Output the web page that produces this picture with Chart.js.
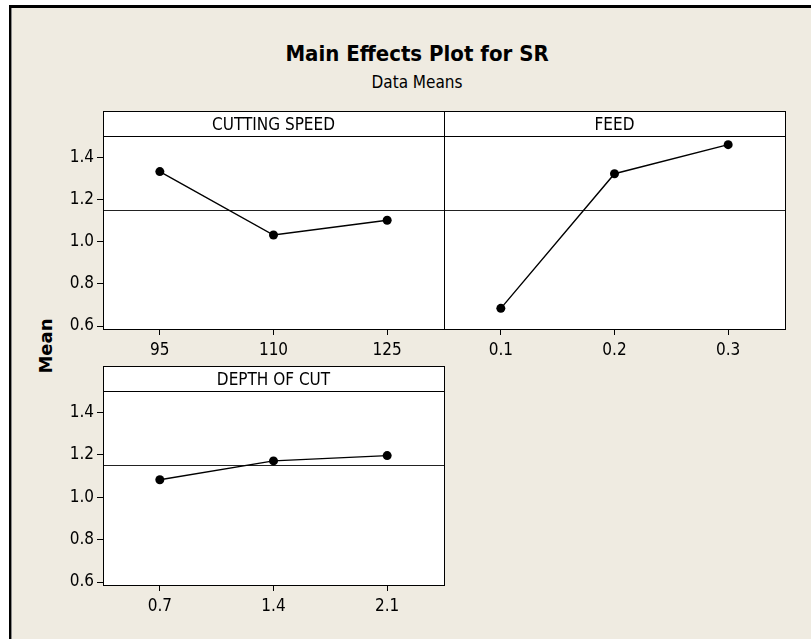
<!DOCTYPE html>
<html>
<head>
<meta charset="utf-8">
<script src="https://cdn.jsdelivr.net/npm/chart.js@4.4.1/dist/chart.umd.min.js"></script>
<style>
  html, body { margin: 0; padding: 0; background: #ffffff; }
  body { width: 811px; height: 639px; position: relative; overflow: hidden; }
  #frame { position: absolute; left: 9px; top: 5px; right: 0; bottom: 0; background: #000; }
  #gray { position: absolute; left: 11px; top: 8px; width: 1px; bottom: 0; background: #8a8a8a; }
  #inner { position: absolute; left: 12px; top: 8px; right: 0; bottom: 0; background: #EFEBE1; }
  .txt { position: absolute; color: #000; white-space: nowrap; line-height: normal; }
  #title { left: 217px; width: 400px; top: 41px; text-align: center;
           font: bold 22px "DejaVu Sans Condensed", "DejaVu Sans", sans-serif; }
  #subtitle { left: 217px; width: 400px; top: 72px; text-align: center;
              font: 17px "DejaVu Sans Condensed", "DejaVu Sans", sans-serif; }
  #ylab { left: 45px; top: 346px; transform: translate(-50%, -50%) rotate(-90deg);
          font: bold 18px "DejaVu Sans", sans-serif; }
  canvas { position: absolute; }
</style>
</head>
<body>
<div id="frame"></div>
<div id="gray"></div>
<div id="inner"></div>
<div class="txt" id="title">Main Effects Plot for SR</div>
<div class="txt" id="subtitle">Data Means</div>
<div class="txt" id="ylab">Mean</div>
<canvas id="c1" width="432" height="270" style="left:13px;top:100px"></canvas>
<canvas id="c2" width="347" height="270" style="left:444px;top:100px"></canvas>
<canvas id="c3" width="432" height="275" style="left:13px;top:355px"></canvas>
<script>
// ---- data ----
const cuttingLabels = ['95', '110', '125'];
const cuttingMeans  = [1.333, 1.032, 1.102];
const feedLabels    = ['0.1', '0.2', '0.3'];
const feedMeans     = [0.684, 1.323, 1.461];
const depthLabels   = ['0.7', '1.4', '2.1'];
const depthMeans    = [1.083, 1.172, 1.197];
const yTicks        = [0.6, 0.8, 1.0, 1.2, 1.4];
const grandMean     = 1.152;
const yMin = 0.586, yMax = 1.502;

const FONT_FAMILY = '"DejaVu Sans Condensed", "DejaVu Sans", sans-serif';
const HEADER_H = 25;

const panelPlugin = {
  id: 'panelFrame',
  beforeDraw(chart) {
    const a = chart.chartArea, ctx = chart.ctx;
    ctx.save();
    ctx.fillStyle = '#ffffff';
    ctx.fillRect(a.left, a.top - HEADER_H, a.right - a.left, a.bottom - a.top + HEADER_H);
    ctx.restore();
  },
  beforeDatasetsDraw(chart) {
    const a = chart.chartArea, ctx = chart.ctx;
    const y = Math.round(chart.scales.y.getPixelForValue(grandMean)) + 0.5;
    ctx.save();
    ctx.strokeStyle = '#222';
    ctx.lineWidth = 1;
    ctx.beginPath();
    ctx.moveTo(a.left, y);
    ctx.lineTo(a.right, y);
    ctx.stroke();
    ctx.restore();
  },
  afterDraw(chart) {
    const a = chart.chartArea, ctx = chart.ctx;
    const title = chart.options.plugins.panelFrame.title;
    ctx.save();
    ctx.strokeStyle = '#000';
    ctx.lineWidth = 1;
    ctx.strokeRect(a.left + 0.5, a.top + 0.5, a.right - a.left, a.bottom - a.top);
    ctx.strokeRect(a.left + 0.5, a.top - HEADER_H + 0.5, a.right - a.left, HEADER_H);
    ctx.fillStyle = '#000';
    ctx.font = '17px ' + FONT_FAMILY;
    ctx.textAlign = 'center';
    ctx.textBaseline = 'alphabetic';
    ctx.fillText(title, (a.left + a.right) / 2, a.top - HEADER_H + 18.5);
    ctx.restore();
  }
};

function makePanel(id, title, labels, values, o) {
  return new Chart(document.getElementById(id), {
    type: 'line',
    data: {
      labels: labels,
      datasets: [{
        data: values,
        borderColor: '#000',
        borderWidth: 1.4,
        pointRadius: 4.5,
        pointBackgroundColor: '#000',
        pointBorderColor: '#000',
        pointBorderWidth: 0,
        tension: 0,
        fill: false
      }]
    },
    options: {
      responsive: false,
      animation: false,
      devicePixelRatio: 1,
      layout: { autoPadding: false, padding: { top: o.padTop, right: o.padRight, left: 0, bottom: 0 } },
      plugins: {
        legend: { display: false },
        tooltip: { enabled: false },
        panelFrame: { title: title }
      },
      scales: {
        x: {
          type: 'category',
          offset: true,
          grid: { display: true, drawOnChartArea: false, drawTicks: true, tickLength: 6, color: '#000', lineWidth: 1 },
          border: { display: false },
          ticks: { color: '#000', font: { family: FONT_FAMILY, size: 17 }, padding: 5, maxRotation: 0, autoSkip: false },
          afterFit: s => { s.height = o.xH; }
        },
        y: {
          display: o.showY,
          min: yMin,
          max: yMax,
          afterBuildTicks: s => { s.ticks = yTicks.map(v => ({ value: v })); },
          grid: { display: true, drawOnChartArea: false, drawTicks: true, tickLength: 6, color: '#000', lineWidth: 1 },
          border: { display: false },
          ticks: { color: '#000', font: { family: FONT_FAMILY, size: 17 }, padding: 3,
                   callback: v => Number(v).toFixed(1) },
          afterFit: s => { s.width = o.yW; }
        }
      }
    },
    plugins: [panelPlugin]
  });
}

makePanel('c1', 'CUTTING SPEED', cuttingLabels, cuttingMeans, { showY: true, yW: 90, xH: 41, padTop: 36, padRight: 1 });
makePanel('c2', 'FEED', feedLabels, feedMeans, { showY: false, yW: 0, xH: 41, padTop: 36, padRight: 6 });
makePanel('c3', 'DEPTH OF CUT', depthLabels, depthMeans, { showY: true, yW: 90, xH: 45, padTop: 36, padRight: 1 });
</script>
</body>
</html>
